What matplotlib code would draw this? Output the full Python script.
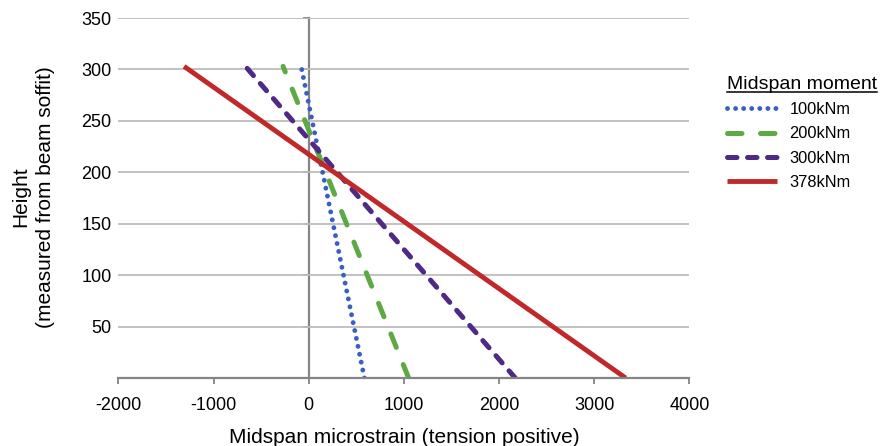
import matplotlib
matplotlib.use("Agg")
import matplotlib.pyplot as plt
from matplotlib.lines import Line2D

plt.rcParams['font.family'] = ['Liberation Sans', 'DejaVu Sans']
plt.rcParams['axes.unicode_minus'] = False

# readings: height above soffit vs strain, one line per load step
heights = [0, 303]
strain_100 = [585, -80]
strain_200 = [1050, -270]
strain_300 = [2170, -665]
strain_378 = [3330, -1310]

labels = ["100kNm", "200kNm", "300kNm", "378kNm"]
yticks = [50, 100, 150, 200, 250, 300, 350]
xticks = [-2000, -1000, 0, 1000, 2000, 3000, 4000]

fig = plt.figure(figsize=(8.81, 4.46), dpi=100)
ax = fig.add_axes([118.4 / 881, 1 - 378 / 446, 571 / 881, 360 / 446])

ax.plot(strain_100, heights, color="#3B5EC4", lw=3.5, linestyle=(0, (0.01, 1.65)),
        dash_capstyle="round", label=labels[0])
ax.plot(strain_200, heights, color="#5DAA45", lw=3.6, linestyle=(0, (2.9, 3.7)),
        dash_capstyle="round", label=labels[1])
ax.plot(strain_300, heights, color="#4E2A84", lw=3.6, linestyle=(0, (1.9, 2.1)),
        dash_capstyle="round", label=labels[2])
ax.plot(strain_378, heights, color="#C0282A", lw=3.5, solid_capstyle="butt", label=labels[3])

ax.set_xlim(-2000, 4000)
ax.set_ylim(0, 350)
ax.set_xticks(xticks)
ax.set_yticks(yticks)
ax.grid(axis="y", color="#BDBDBD", lw=1.3)
ax.set_axisbelow(True)

for s in ["top", "right", "left"]:
    ax.spines[s].set_visible(False)
ax.spines["bottom"].set_color("#858585")
ax.spines["bottom"].set_linewidth(1.6)
ax.tick_params(axis="x", direction="out", length=4, width=1.3, color="#858585",
               labelsize=13, pad=10)
ax.tick_params(axis="y", length=0, labelsize=13, pad=5)

# vertical axis crossing at zero strain
sec = ax.secondary_yaxis(1 / 3)
sec.set_yticks(yticks)
sec.tick_params(length=4, width=1.3, color="#858585", labelleft=False, labelright=False)
sec.spines["left"].set_color("#858585")
sec.spines["left"].set_linewidth(1.6)
sec.spines["right"].set_visible(False)

ax.set_xlabel("Midspan microstrain (tension positive)", fontsize=15, labelpad=10)
fig.text(33 / 881, 1 - 197 / 446, "Height\n(measured from beam soffit)", fontsize=15,
         rotation=90, ha="center", va="center", multialignment="center", linespacing=1.35)

leg = ax.legend(loc="upper left", bbox_to_anchor=(727 / 881, 1 - 76 / 446),
                bbox_transform=fig.transFigure, frameon=False, fontsize=11.8,
                title="Midspan moment", title_fontsize=14, alignment="left",
                handlelength=3.05, handletextpad=0.75, labelspacing=0.56,
                borderpad=0, borderaxespad=0)

fig.canvas.draw()
bb = leg.get_title().get_window_extent(fig.canvas.get_renderer())
fig.add_artist(Line2D([bb.x0 / 881, bb.x1 / 881], [(bb.y0 + 1) / 446] * 2,
                      transform=fig.transFigure, color="black", lw=1.1))

fig.savefig("out.png", dpi=100)
